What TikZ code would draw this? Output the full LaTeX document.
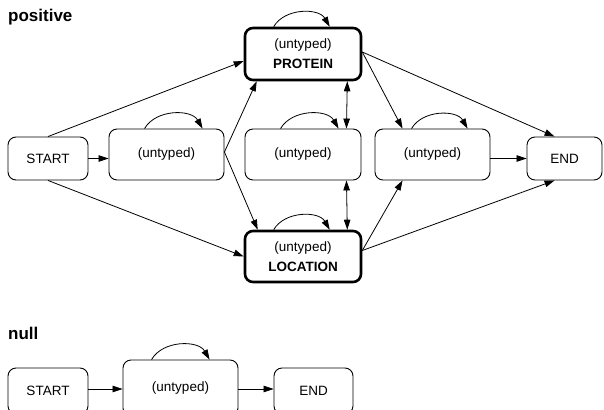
\documentclass[tikz,border=0pt]{standalone}
\usepackage{fontspec}
\setmainfont{Liberation Sans}
\usetikzlibrary{arrows.meta,calc}
\begin{document}
\begin{tikzpicture}[x=1pt,y=1pt,
  box/.style={draw,rounded corners=8pt,line width=0.9pt,inner sep=0pt,
    font=\fontsize{13.5}{20}\selectfont,align=center},
  strong/.style={box,line width=2.6pt},
  edge/.style={line width=0.8pt,-{Triangle[length=10pt,width=6.5pt]}},
  bedge/.style={line width=0.8pt,{Triangle[length=10pt,width=6.5pt]}-{Triangle[length=10pt,width=6.5pt]}},
  lbl/.style={font=\fontsize{17}{20}\selectfont\bfseries,anchor=base west,inner sep=0pt}]
\useasboundingbox (0,0) rectangle (604,-409);
\clip (0,0) rectangle (604,-409);
\node[lbl] (tpos) at (8,-21.5) {positive};
\node[lbl] (tnull) at (8,-339) {null};
% positive model
\node[box,minimum width=80pt,minimum height=43pt] (sp) at (48,-158.5) {START};
\node[box,minimum width=115pt,minimum height=51pt] (u1) at (166.5,-154.5) {(untyped)};
\node[strong,minimum width=116pt,minimum height=52pt] (prot) at (303,-54) {(untyped)\\\textbf{PROTEIN}};
\node[box,minimum width=116pt,minimum height=51pt] (u2) at (303,-154.5) {(untyped)};
\node[strong,minimum width=116pt,minimum height=51pt] (loc) at (303,-256.5) {(untyped)\\\textbf{LOCATION}};
\node[box,minimum width=115pt,minimum height=51pt] (u3) at (432.5,-154.5) {(untyped)};
\node[box,minimum width=75pt,minimum height=43pt] (endp) at (564.5,-158.5) {END};
% self loops
\draw[edge] ($(u1.north west)+(36,0)$) to[out=60,in=120] ($(u1.north west)+(94,0)$);
\draw[edge] ($(prot.north west)+(30,0)$) to[out=60,in=120] ($(prot.north west)+(86,0)$);
\draw[edge] ($(u2.north west)+(36,0)$) to[out=60,in=120] ($(u2.north west)+(94,0)$);
\draw[edge] ($(loc.north west)+(30,0)$) to[out=60,in=120] ($(loc.north west)+(86,0)$);
\draw[edge] ($(u3.north west)+(37,0)$) to[out=60,in=120] ($(u3.north west)+(93,0)$);
% transitions
\draw[edge] (sp.north) -- ($(prot.west)+(0,-7)$);
\draw[edge] (sp.south) -- (loc.west);
\draw[edge] (sp.east) -- (sp.east -| u1.west);
\draw[edge] ($(u1.east)+(0,2.5)$) -- ($(prot.south west)+(13,0)$);
\draw[edge] ($(u1.east)+(0,2.5)$) -- ($(loc.north west)+(14,0)$);
\draw[bedge] ($(prot.south east)+(-15,0)$) -- ($(u2.north east)+(-15,0)$);
\draw[bedge] ($(u2.south east)+(-15,0)$) -- ($(loc.north east)+(-15,0)$);
\draw[edge] ($(prot.east)+(0,2)$) -- ($(u3.north west)+(28,0)$);
\draw[edge] ($(prot.east)+(0,2)$) -- ($(endp.north west)+(28,0)$);
\draw[edge] ($(loc.east)+(0,6)$) -- ($(u3.south west)+(28,0)$);
\draw[edge] ($(loc.east)+(0,6)$) -- ($(endp.south west)+(28,0)$);
\draw[edge] (u3.east |- endp.west) -- (endp.west);
% null model
\node[box,minimum width=80pt,minimum height=46pt] (nsp) at (48,-391) {START};
\node[box,minimum width=115pt,minimum height=56pt] (nu) at (180.5,-388) {(untyped)};
\node[box,minimum width=79pt,minimum height=46pt] (nend) at (313.5,-391) {END};
\draw[edge] ($(nu.north west)+(29,0)$) to[out=60,in=120] ($(nu.north west)+(87,0)$);
\draw[edge] ($(nsp.east)+(0,2)$) -- ($(nsp.east -| nu.west)+(0,2)$);
\draw[edge] ($(nu.east |- nend.west)+(0,2)$) -- ($(nend.west)+(0,2)$);
\end{tikzpicture}
\end{document}
